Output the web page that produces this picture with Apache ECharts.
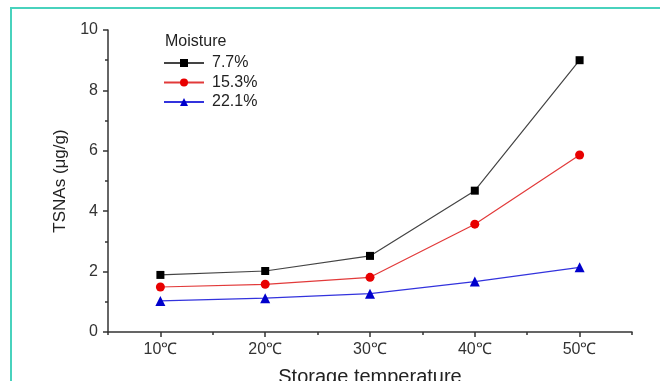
<!DOCTYPE html>
<html>
<head>
<meta charset="utf-8">
<script src="https://cdn.jsdelivr.net/npm/echarts@6/dist/echarts.min.js"></script>
<style>html,body{margin:0;padding:0;background:#fff;}#c{width:660px;height:381px;}</style>
</head>
<body>
<div id="c"></div>
<script>
const temps = [10, 20, 30, 40, 50];
const seriesNames = ['7.7%', '15.3%', '22.1%'];
const m77 = [1.89, 2.02, 2.52, 4.68, 9.0];
const m153 = [1.49, 1.58, 1.81, 3.57, 5.86];
const m221 = [1.03, 1.12, 1.27, 1.67, 2.14];
const yTicks = [0, 2, 4, 6, 8, 10];

const pair = arr => temps.map((t, i) => [t, arr[i]]);
const font = 'Arial, "Liberation Sans", sans-serif';

const chart = echarts.init(document.getElementById('c'));
chart.setOption({
  animation: false,
  backgroundColor: '#fff',
  textStyle: { fontFamily: font },
  graphic: [
    { type: 'rect', shape: { x: 11, y: 8, width: 720, height: 420 }, style: { fill: 'none', stroke: '#48d2bd', lineWidth: 2 }, silent: true },
    { type: 'text', left: 165, top: 34, style: { text: 'Moisture', fontSize: 16, fill: '#222', fontFamily: font } }
  ],
  grid: { left: 108, top: 30, right: 28, bottom: 49, outerBoundsMode: 'none', containLabel: false },
  legend: {
    data: seriesNames,
    orient: 'vertical',
    left: 163, top: 55, padding: 0,
    itemWidth: 40, itemHeight: 10, itemGap: 3.5,
    textStyle: { fontSize: 16, color: '#222', fontFamily: font, padding: [0, 0, 0, 3] }
  },
  xAxis: [{
    type: 'value', min: 5, max: 55, interval: 5,
    axisLine: { lineStyle: { color: '#333', width: 1.5 } },
    axisTick: { length: 3, lineStyle: { color: '#333', width: 1.5 } },
    axisLabel: { margin: 10, fontSize: 16, color: '#333', formatter: v => (v % 10 === 0 && v >= 10 && v <= 50) ? v + '℃' : '' },
    splitLine: { show: false },
    name: 'Storage temperature', nameLocation: 'middle', nameGap: 35,
    nameTextStyle: { fontSize: 20, color: '#222' }
  }, {
    type: 'value', min: 5, max: 55, interval: 5, position: 'bottom',
    axisLine: { show: false },
    axisTick: { length: 5, customValues: temps, lineStyle: { color: '#333', width: 1.5 } },
    axisLabel: { show: false },
    splitLine: { show: false }
  }],
  yAxis: {
    type: 'value', min: 0, max: 10, interval: 2,
    axisLine: { show: true, lineStyle: { color: '#333', width: 1.5 } },
    axisTick: { show: true, length: 5, lineStyle: { color: '#333', width: 1.5 } },
    minorTick: { show: true, splitNumber: 2, length: 3, lineStyle: { color: '#333', width: 1.5 } },
    axisLabel: { margin: 10, fontSize: 16, color: '#333', formatter: v => yTicks.includes(v) ? String(v) : '' },
    splitLine: { show: false },
    name: 'TSNAs (μg/g)', nameLocation: 'middle', nameGap: 38,
    nameTextStyle: { fontSize: 17, color: '#222' }
  },
  series: [
    { name: seriesNames[0], type: 'line', data: pair(m77), symbol: 'rect', symbolSize: 8,
      lineStyle: { color: '#444', width: 1.2 }, itemStyle: { color: '#000' } },
    { name: seriesNames[1], type: 'line', data: pair(m153), symbol: 'circle', symbolSize: 9,
      lineStyle: { color: '#e23a3a', width: 1.2 }, itemStyle: { color: '#e80000' } },
    { name: seriesNames[2], type: 'line', data: pair(m221), symbol: 'triangle', symbolSize: 10,
      lineStyle: { color: '#3333dd', width: 1.2 }, itemStyle: { color: '#0000cc' } }
  ]
});
</script>
</body>
</html>
